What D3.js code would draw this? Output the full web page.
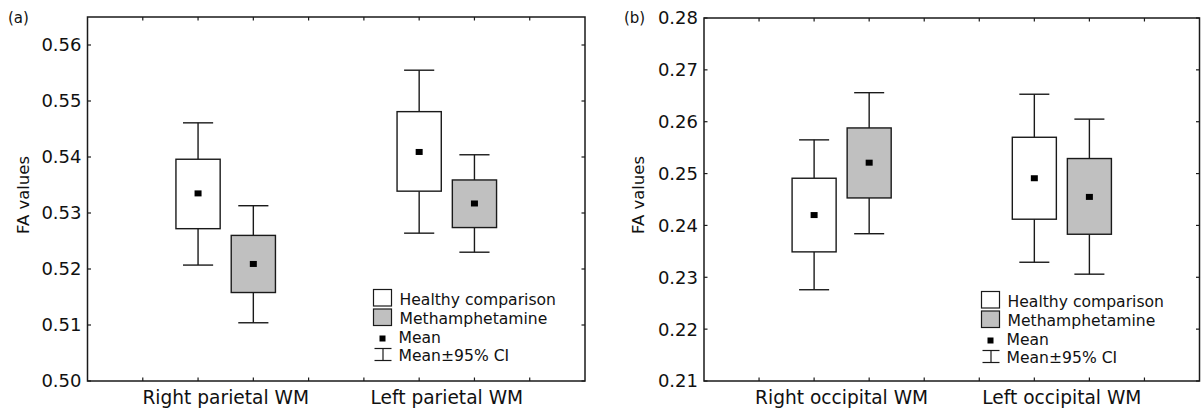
<!DOCTYPE html>
<html><head><meta charset="utf-8">
<script src="https://cdn.jsdelivr.net/npm/d3@7"></script>
<style>
body{margin:0;background:#fff;}
text{font-family:"DejaVu Sans",sans-serif;fill:#111;}
</style></head>
<body><svg id="c" width="1201" height="410"></svg>
<script>
// ---- data ----
const seriesNames = ["Healthy comparison", "Methamphetamine"];
const catsA = ["Right parietal WM", "Left parietal WM"];
const catsB = ["Right occipital WM", "Left occipital WM"];
// [lower CI cap, box bottom, mean, box top, upper cap] per category, per series
const healthyA = [[0.5207,0.5272,0.5335,0.5396,0.5461],[0.5264,0.5339,0.5409,0.5481,0.5555]];
const methA    = [[0.5104,0.5158,0.5209,0.5260,0.5313],[0.5230,0.5274,0.5317,0.5359,0.5404]];
const healthyB = [[0.2276,0.2349,0.2420,0.2491,0.2565],[0.2329,0.2412,0.2491,0.2570,0.2653]];
const methB    = [[0.2384,0.2453,0.2521,0.2588,0.2656],[0.2306,0.2383,0.2455,0.2529,0.2605]];
const ticksA = [0.50,0.51,0.52,0.53,0.54,0.55,0.56];
const ticksB = [0.21,0.22,0.23,0.24,0.25,0.26,0.27,0.28];
const tickFmt = d3.format(".2f");

const svg = d3.select("#c");
const fills = ["#ffffff", "#c0c0c0"];
const ink = "#1a1a1a";

function panel(o){
  const g = svg.append("g");
  const x = d3.scaleLinear().domain([0,9]).range([o.left, o.right]);
  const y = d3.scaleLinear().domain(o.ydom).range([381, o.top]);
  g.append("rect").attr("x",o.left).attr("y",o.top).attr("width",o.right-o.left).attr("height",381-o.top)
    .attr("fill","none").attr("stroke",ink).attr("stroke-width",1.5);
  const tl = 3.5;
  o.yticks.forEach(t=>{
    const yy = y(t);
    g.append("line").attr("x1",o.left).attr("x2",o.left+tl).attr("y1",yy).attr("y2",yy).attr("stroke",ink).attr("stroke-width",1.2);
    g.append("line").attr("x1",o.right).attr("x2",o.right-tl).attr("y1",yy).attr("y2",yy).attr("stroke",ink).attr("stroke-width",1.2);
    g.append("text").attr("x",o.left-6).attr("y",yy).attr("dy","0.36em").attr("text-anchor","end")
      .style("font-size","18px").text(tickFmt(t));
  });
  d3.range(1,9).forEach(t=>{
    const xx = x(t);
    g.append("line").attr("x1",xx).attr("x2",xx).attr("y1",381).attr("y2",381-tl).attr("stroke",ink).attr("stroke-width",1.2);
    g.append("line").attr("x1",xx).attr("x2",xx).attr("y1",o.top).attr("y2",o.top+tl).attr("stroke",ink).attr("stroke-width",1.2);
  });
  o.cats.forEach((c,i)=>{
    g.append("text").attr("x",x(2.5+4*i)).attr("y",404).attr("text-anchor","middle")
      .style("font-size","18.6px").text(c);
  });
  g.append("text").attr("transform",`translate(${o.ylabX},195) rotate(-90)`).attr("text-anchor","middle")
    .attr("dy","0.35em").style("font-size","16.5px").text("FA values");
  g.append("text").attr("x",o.letterX).attr("y",23).style("font-size","15px").text(o.letter);
  const bw = 44/55, cw = 30/55;
  o.series.forEach((ser,si)=>{
    ser.forEach((v,ci)=>{
      const cx = 2 + 4*ci + si;
      const xc = x(cx);
      const w = x(cx+bw/2)-x(cx-bw/2);
      const cwp = x(cx+cw/2)-x(cx-cw/2);
      g.append("line").attr("x1",xc).attr("x2",xc).attr("y1",y(v[3])).attr("y2",y(v[4])).attr("stroke",ink).attr("stroke-width",1.4);
      g.append("line").attr("x1",xc).attr("x2",xc).attr("y1",y(v[1])).attr("y2",y(v[0])).attr("stroke",ink).attr("stroke-width",1.4);
      g.append("line").attr("x1",xc-cwp/2).attr("x2",xc+cwp/2).attr("y1",y(v[4])).attr("y2",y(v[4])).attr("stroke",ink).attr("stroke-width",1.4);
      g.append("line").attr("x1",xc-cwp/2).attr("x2",xc+cwp/2).attr("y1",y(v[0])).attr("y2",y(v[0])).attr("stroke",ink).attr("stroke-width",1.4);
      g.append("rect").attr("x",xc-w/2).attr("y",y(v[3])).attr("width",w).attr("height",y(v[1])-y(v[3]))
        .attr("fill",fills[si]).attr("stroke",ink).attr("stroke-width",1.4);
      g.append("rect").attr("x",xc-3.5).attr("y",y(v[2])-3).attr("width",7).attr("height",6).attr("fill","#000");
    });
  });
  const lx = o.legX, ly = o.legY, fs = "15.6px";
  seriesNames.forEach((s,i)=>{
    g.append("rect").attr("x",lx).attr("y",ly+i*19.5).attr("width",18).attr("height",16.5)
      .attr("fill",fills[i]).attr("stroke",ink).attr("stroke-width",1.2);
    g.append("text").attr("x",lx+26).attr("y",ly+i*19.5+15).style("font-size",fs).text(s);
  });
  g.append("rect").attr("x",lx+6).attr("y",ly+46).attr("width",6).attr("height",6).attr("fill","#000");
  g.append("text").attr("x",lx+25).attr("y",ly+53).style("font-size",fs).text("Mean");
  const cy0 = ly+59, cy1 = ly+71;
  g.append("line").attr("x1",lx+1).attr("x2",lx+18).attr("y1",cy0).attr("y2",cy0).attr("stroke",ink).attr("stroke-width",1.2);
  g.append("line").attr("x1",lx+1).attr("x2",lx+18).attr("y1",cy1).attr("y2",cy1).attr("stroke",ink).attr("stroke-width",1.2);
  g.append("line").attr("x1",lx+9.5).attr("x2",lx+9.5).attr("y1",cy0).attr("y2",cy1).attr("stroke",ink).attr("stroke-width",1.2);
  g.append("text").attr("x",lx+25).attr("y",ly+71).style("font-size",fs).text("Mean\u00B195% CI");
}

panel({left:87.5, right:585, top:17, ydom:[0.50,0.565], yticks:ticksA, cats:catsA,
  series:[healthyA, methA], ylabX:23, letter:"(a)", letterX:8, legX:373.5, legY:289.5});
panel({left:704, right:1199.5, top:18, ydom:[0.21,0.28], yticks:ticksB, cats:catsB,
  series:[healthyB, methB], ylabX:638, letter:"(b)", letterX:624, legX:981.5, legY:291.5});
</script></body></html>
